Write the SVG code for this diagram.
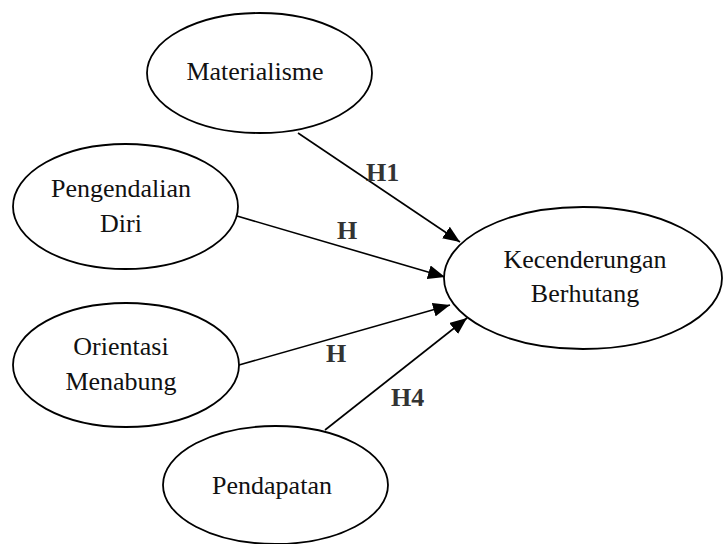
<svg xmlns="http://www.w3.org/2000/svg" width="723" height="544" viewBox="0 0 723 544">
<style>
.node ellipse{fill:#fff;stroke:#000;stroke-width:1.8}
.node text{font-family:"Liberation Serif","Times New Roman",serif;font-size:26px;fill:#111;text-anchor:middle}
.edge line{stroke:#000;stroke-width:1.6;marker-end:url(#ah)}
.lbl{font-family:"Liberation Serif","Times New Roman",serif;font-size:26px;font-weight:bold;fill:#333}
</style>
<defs>
<marker id="ah" markerUnits="userSpaceOnUse" markerWidth="18" markerHeight="14" refX="17" refY="7" orient="auto">
<path d="M0,0 L17,7 L0,14 z" fill="#000"/>
</marker>
</defs>
<rect width="723" height="544" fill="#fff"/>
<g id="connectors" class="edge">
<line x1="298" y1="133" x2="460" y2="242"/>
<line x1="237" y1="216" x2="445" y2="277"/>
<line x1="239" y1="365" x2="450" y2="305"/>
<line x1="325" y1="430" x2="467" y2="318"/>
</g>
<g id="edge-labels">
<text class="lbl" x="366" y="181">H1</text>
<text class="lbl" x="337" y="239">H</text>
<text class="lbl" x="326" y="362">H</text>
<text class="lbl" x="391" y="406">H4</text>
</g>
<g id="materialisme" class="node">
<ellipse cx="259.5" cy="73" rx="112.5" ry="60"/>
<text x="255" y="80">Materialisme</text>
</g>
<g id="pengendalian-diri" class="node">
<ellipse cx="125.5" cy="206.5" rx="112.5" ry="62.5"/>
<text x="121" y="197">Pengendalian</text>
<text x="121" y="232">Diri</text>
</g>
<g id="orientasi-menabung" class="node">
<ellipse cx="126" cy="365" rx="113" ry="62"/>
<text x="121" y="355">Orientasi</text>
<text x="121" y="390">Menabung</text>
</g>
<g id="pendapatan" class="node">
<ellipse cx="275.5" cy="485" rx="112.5" ry="59"/>
<text x="272" y="494">Pendapatan</text>
</g>
<g id="kecenderungan-berhutang" class="node">
<ellipse cx="583" cy="278" rx="139" ry="71"/>
<text x="585" y="268">Kecenderungan</text>
<text x="585" y="302">Berhutang</text>
</g>
</svg>
